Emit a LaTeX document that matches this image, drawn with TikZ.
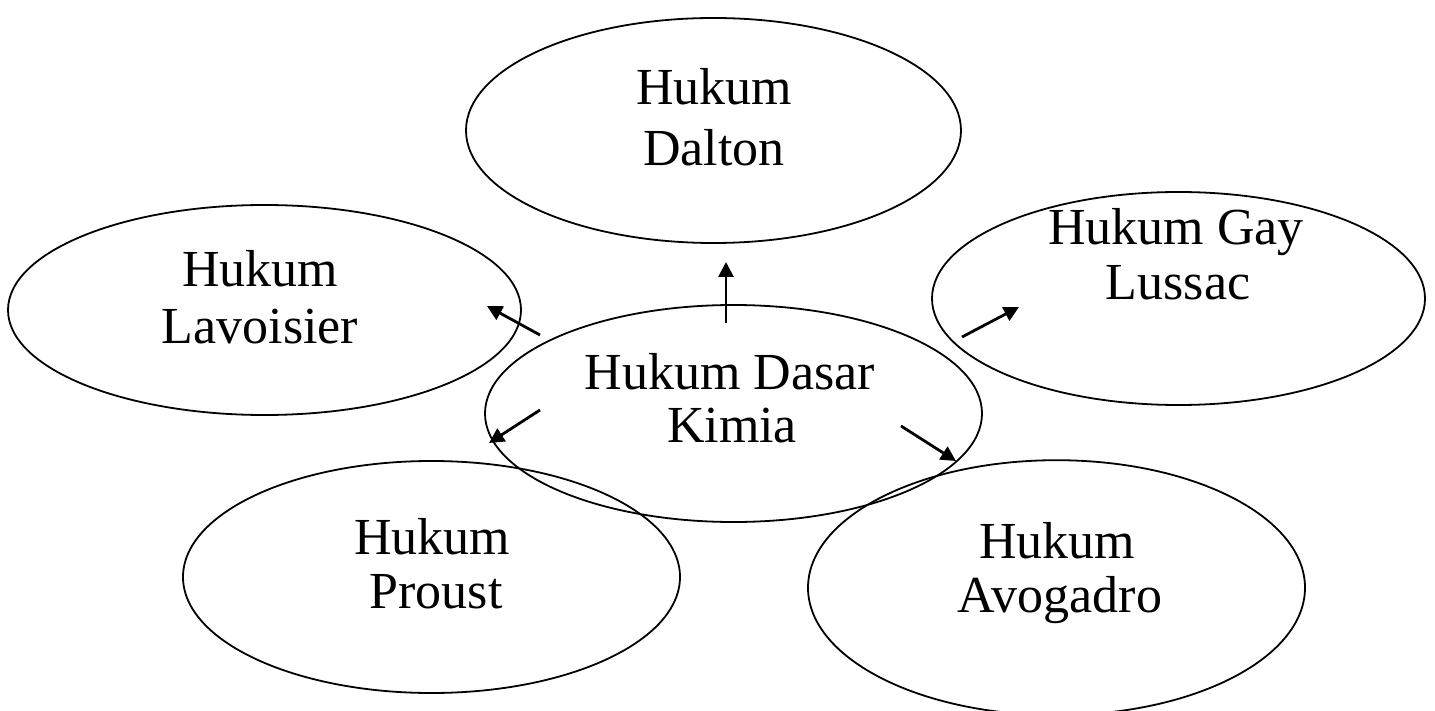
\documentclass[tikz,border=0pt]{standalone}
\usepackage{fontspec}
\setmainfont{Liberation Serif}
\usetikzlibrary{shapes.geometric,arrows.meta}
\tikzset{
  oval/.style={draw=black, line width=1.8pt, ellipse, inner sep=0pt},
  lbl/.style={anchor=base, inner sep=0pt, font=\fontsize{52}{55}\selectfont},
  arr/.style={line width=2.8pt, -{Triangle[length=15pt,width=15pt]}}
}
\begin{document}
\begin{tikzpicture}[x=1pt,y=-1pt]
\useasboundingbox (0,0) rectangle (1435,711);
% ellipses
\node[oval, minimum width=495pt, minimum height=225pt] (dalton) at (713.5,130.5) {};
\node[oval, minimum width=513pt, minimum height=210pt] (lavoisier) at (264.5,310) {};
\node[oval, minimum width=493pt, minimum height=213pt] (gay) at (1178.5,298.5) {};
\node[oval, minimum width=497pt, minimum height=217pt] (dasar) at (733.5,413.5) {};
\node[oval, minimum width=497pt, minimum height=232pt] (proust) at (431.5,577) {};
\node[oval, minimum width=497pt, minimum height=255pt] (avogadro) at (1056.5,587.7) {};
% labels
\node[lbl] (daltonA) at (714,105) {Hukum};
\node[lbl] (daltonB) at (714,166) {Dalton};
\node[lbl] (lavA) at (260,287) {Hukum};
\node[lbl] (lavB) at (260,344) {Lavoisier};
\node[lbl] (gayA) at (1176,245) {Hukum Gay};
\node[lbl] (gayB) at (1178,300) {Lussac};
\node[lbl] (dasarA) at (730,389) {Hukum Dasar};
\node[lbl] (dasarB) at (732,442) {Kimia};
\node[lbl] (prA) at (432,554) {Hukum};
\node[lbl] (prB) at (436,608) {Proust};
\node[lbl] (avA) at (1057,558) {Hukum};
\node[lbl] (avB) at (1060,612) {Avogadro};
% arrow ends
\coordinate (upS) at (726,323);  \coordinate (upE) at (726,262);
\coordinate (luS) at (540,335);  \coordinate (luE) at (487,306);
\coordinate (ruS) at (962,337);  \coordinate (ruE) at (1019,307);
\coordinate (ldS) at (540,410);  \coordinate (ldE) at (489,443);
\coordinate (rdS) at (901,426);  \coordinate (rdE) at (956,461);
\draw[arr] (upS) -- (upE);
\draw[arr] (luS) -- (luE);
\draw[arr] (ruS) -- (ruE);
\draw[arr] (ldS) -- (ldE);
\draw[arr] (rdS) -- (rdE);
\end{tikzpicture}
\end{document}
